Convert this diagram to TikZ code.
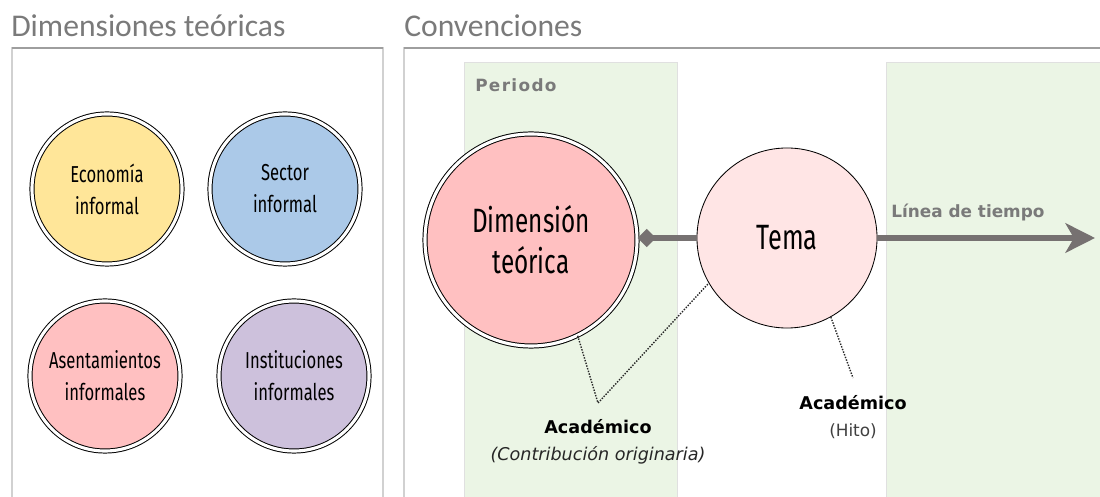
\documentclass[tikz,border=0pt]{standalone}
\usepackage{fontspec}
\setmainfont{DejaVu Sans}
\newfontfamily\titlefont{Carlito}
\newfontfamily\condfont[FakeStretch=0.72]{Fira Sans}
\newfontfamily\espaciada[LetterSpace=8]{DejaVu Sans}
\usetikzlibrary{arrows.meta}
\definecolor{amarillo}{HTML}{FFE699}
\definecolor{azul}{HTML}{ABC9E8}
\definecolor{rosa}{HTML}{FFC0C1}
\definecolor{lila}{HTML}{CDC1DC}
\definecolor{rosaclaro}{HTML}{FFE5E5}
\definecolor{verdeclaro}{HTML}{EBF5E5}
\definecolor{grisletra}{HTML}{7A7A7A}
\definecolor{grislinea}{HTML}{767171}
\begin{document}
\begin{tikzpicture}
    [x=0.025cm,y=-0.025cm,
     dimension/.style={circle, draw=black, double=white, double distance=2.2pt, line width=0.7pt, inner sep=0pt, minimum size=3.75cm, align=center, font=\condfont\fontsize{16.4}{22.8}\selectfont},
     panel/.style={draw=black!18, line width=1.2pt},
     periodo/.style={fill=verdeclaro, draw=black!12, line width=0.5pt},
     titulo/.style={anchor=base west, inner sep=0pt, text=grisletra, font=\titlefont\fontsize{22.5}{26}\selectfont},
     rotulo/.style={anchor=base west, inner sep=0pt, text=grisletra, font=\bfseries\fontsize{12}{14}\selectfont},
     tiempo/.style={draw=grislinea, line width=3.6pt},
     guia/.style={densely dotted, line width=1pt, draw=black!85}]
    \useasboundingbox (0,0) rectangle (1100,497);
    \fill[white] (0,0) rectangle (1100,497);

    % marcos
    \draw[panel] (12,500) -- (12,48) -- (383,48) -- (383,500);
    \draw[black!38, line width=1.4pt] (12,48) -- (383,48);
    \draw[panel] (404,500) -- (404,48) -- (1105,48);
    \draw[black!38, line width=1.4pt] (404,48) -- (1105,48);
    \node[titulo] (tdim) at (11,37) {Dimensiones teóricas};
    \node[titulo] (tconv) at (404,37) {Convenciones};

    % dimensiones teoricas
    \node[dimension, fill=amarillo] (economia) at (107,189) {Economía\\informal};
    \node[dimension, fill=azul] (sector) at (285,189) {Sector\\informal};
    \node[dimension, fill=rosa] (asentamientos) at (105,376) {Asentamientos\\informales};
    \node[dimension, fill=lila] (instituciones) at (294,376) {Instituciones\\informales};

    % convenciones
    \filldraw[periodo] (464,62) rectangle (677,505);
    \filldraw[periodo] (886,62) rectangle (1110,505);
    \node[rotulo, font=\espaciada\bfseries\fontsize{12}{14}\selectfont] (lperiodo) at (475,92) {Periodo};
    \node[rotulo] (llinea) at (891,218) {Línea de tiempo};

    \node[dimension, fill=rosa, minimum size=5.3cm, font=\condfont\fontsize{24}{29}\selectfont] (dim) at (531,240) {Dimensión\\teórica};
    \node[circle, draw=black, line width=0.6pt, fill=rosaclaro, inner sep=0pt, minimum size=4.5cm, font=\condfont\fontsize{25}{30}\selectfont] (tema) at (787,238) {Tema};
    \coordinate (fin) at (1095,238);
    \coordinate (c1) at (598,403);
    \coordinate (c2) at (853,378);

    \draw[tiempo, {Diamond[length=13pt,width=13pt]}-] (dim.east |- tema.west) -- (tema.west);
    \draw[tiempo, -{Stealth[length=21pt,width=21pt,inset=6pt]}] (tema.east) -- (fin);
    \draw[guia] (dim.-64) -- (c1) -- (tema.210);
    \draw[guia] (tema.-61) -- (c2);

    \node[font=\bfseries\fontsize{12.5}{14}\selectfont] (acad1) at (598,427) {Académico};
    \node[font=\itshape\fontsize{12.5}{14}\selectfont, text=black!85] (contrib) at (598,455) {(Contribución originaria)};
    \node[font=\bfseries\fontsize{12.5}{14}\selectfont] (acad2) at (853,403) {Académico};
    \node[font=\fontsize{12}{14}\selectfont, text=black!75] (hito) at (853,431) {(Hito)};
\end{tikzpicture}
\end{document}
